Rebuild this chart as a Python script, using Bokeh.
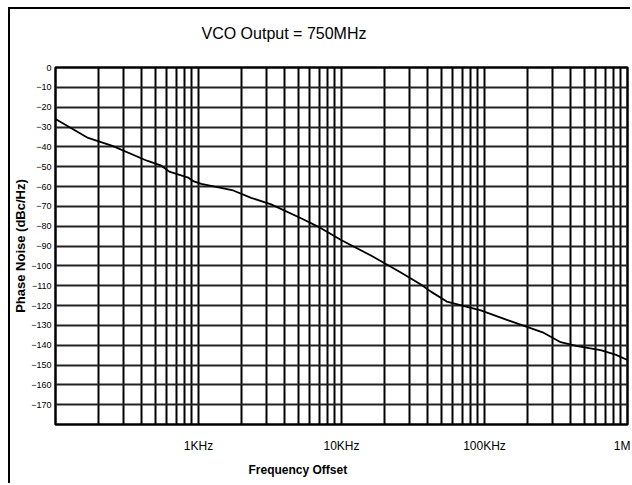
from bokeh.plotting import figure
from bokeh.models import FixedTicker, Range1d, Title
from bokeh.embed import file_html
from bokeh.resources import INLINE

# ---- data -------------------------------------------------------------
chart_title = "VCO Output = 750MHz"
x_axis_title = "Frequency Offset"
y_axis_title = "Phase Noise (dBc/Hz)"

freq_hz = [100, 169, 250, 436, 550, 625, 847, 918, 1045, 1750, 2334, 3220,
           5210, 7190, 9930, 16070, 26000, 35900, 42200, 54500, 94100,
           172700, 255000, 340600, 445500, 648000, 824000, 1000000]
phase_noise_dbc = [-26, -35.5, -39.5, -47, -49.5, -52.5, -55.5, -57.3, -58.7,
                   -62, -65.7, -69, -76, -81, -87, -94.8, -103.4, -109.4, -113,
                   -118, -122.5, -129.3, -133.5, -138.5, -140.5, -142.5, -144.8,
                   -147.5]

x_tick_values = [1e3, 1e4, 1e5, 1e6]
x_tick_labels = ["1KHz", "10KHz", "100KHz", "1M"]
y_tick_values = list(range(0, -180, -10))
grid_decades = [1e2, 1e3, 1e4, 1e5]
grid_multipliers = [1, 2, 3, 4, 5, 6, 7, 8, 9]

x_grid_values = [d * m for d in grid_decades for m in grid_multipliers][1:]

FONT = "Liberation Sans"

p = figure(width=622, height=476, x_axis_type="log", title=None,
           x_range=Range1d(100, 1e6), y_range=Range1d(-180, 0),
           output_backend="svg", toolbar_location=None,
           min_border_left=44, min_border_right=5,
           min_border_top=58, min_border_bottom=61,
           styles={"margin-left": "8px", "margin-top": "7px",
                   "border-left": "2px solid black",
                   "border-top": "2px solid black"})

p.background_fill_color = "white"
p.border_fill_color = "white"
p.outline_line_color = "black"
p.outline_line_width = 2.5

# title (a blank spacer sits between the title and the frame)
p.add_layout(Title(text=" ", text_font_size="8px"), "above")
p.add_layout(Title(text=chart_title, align="left", offset=146,
                   text_font=FONT, text_font_size="16px",
                   text_font_style="normal", text_color="black"), "above")

# x axis
xa = p.xaxis[0]
xa.ticker = FixedTicker(ticks=x_tick_values)
xa.major_label_overrides = {v: l for v, l in zip(x_tick_values, x_tick_labels)}
xa.major_tick_out = 0
xa.major_tick_in = 0
xa.minor_tick_out = 0
xa.minor_tick_in = 0
xa.axis_line_color = None
xa.major_label_standoff = 14
xa.major_label_text_font = FONT
xa.major_label_text_font_size = "12px"
xa.major_label_text_color = "black"

# y axis
ya = p.yaxis[0]
ya.ticker = FixedTicker(ticks=y_tick_values)
ya.major_tick_out = 0
ya.major_tick_in = 0
ya.minor_tick_out = 0
ya.minor_tick_in = 0
ya.axis_line_color = None
ya.major_label_standoff = 4
ya.major_label_text_font = FONT
ya.major_label_text_font_size = "9px"
ya.major_label_text_color = "black"
ya.axis_label = y_axis_title
ya.axis_label_text_font = FONT
ya.axis_label_text_font_style = "bold"
ya.axis_label_text_font_size = "13px"
ya.axis_label_text_color = "black"
ya.axis_label_standoff = 0

# grids
p.xgrid.ticker = FixedTicker(ticks=x_grid_values)
p.xgrid.grid_line_color = "black"
p.xgrid.grid_line_width = 2
p.ygrid.ticker = FixedTicker(ticks=y_tick_values)
p.ygrid.grid_line_color = "#222222"
p.ygrid.grid_line_width = 2

# x axis title below
p.add_layout(Title(text=x_axis_title, align="left", offset=193,
                   text_font=FONT, text_font_size="12px",
                   text_font_style="bold", text_color="black"), "below")

# curve
p.line(freq_hz, phase_noise_dbc, line_color="black", line_width=1.8)

open("out.html", "w").write(file_html(p, INLINE))
